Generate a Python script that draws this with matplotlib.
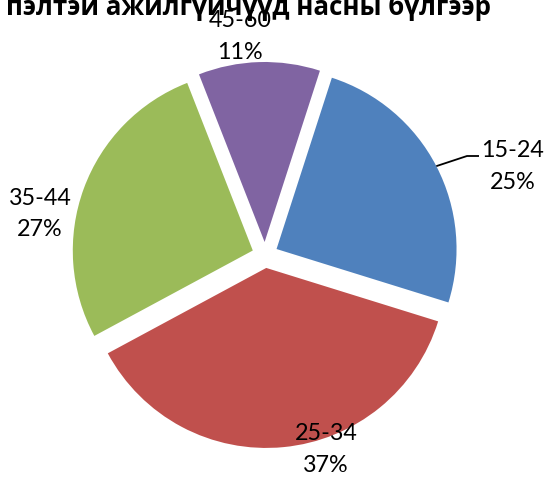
import numpy as np
import matplotlib
matplotlib.use("Agg")
import matplotlib.pyplot as plt

# Data
title = "пэлтэй ажилгүйчүүд насны бүлгээр"
categories = ["15-24", "25-34", "35-44", "45-60"]
values = [24.8, 37.3, 26.9, 10.9]
pct_labels = ["25%", "37%", "27%", "11%"]
colors = ["#4F81BD", "#C0504D", "#9BBB59", "#8064A2"]

W, H = 547, 479
fig = plt.figure(figsize=(W / 100, H / 100), dpi=100)
ax = fig.add_axes([0, 0, 1, 1])

cx, cy = 265, H - 255
R = 180
exp = 13
start = 72.1

wedges, _ = ax.pie(values, colors=colors, startangle=start, counterclock=False,
                   radius=R, center=(cx, cy), explode=[exp] * 4, frame=True,
                   wedgeprops=dict(linewidth=0))
ax.set_xlim(0, W)
ax.set_ylim(0, H)
ax.set_aspect("equal")
ax.axis("off")

lab_font = dict(family=["Lato", "Noto Sans", "DejaVu Sans"], fontsize=16.8, color="black")
# label centers (pixel, y from top)
label_pos = {"15-24": (513, 150, 182), "25-34": (326, 434, 466),
             "35-44": (40, 198, 229), "45-60": (240, 20, 52)}
for cat, pct in zip(categories, pct_labels):
    x, y1, y2 = label_pos[cat]
    ax.text(x, H - y1, cat, ha="center", va="center", **lab_font)
    ax.text(x, H - y2, pct, ha="center", va="center", **lab_font)

# leader line for 15-24
w = wedges[0]
mid = np.deg2rad((w.theta1 + w.theta2) / 2)
wc = w.center
p0 = (wc[0] + R * np.cos(mid), wc[1] + R * np.sin(mid))
ax.plot([p0[0], 467, 479], [p0[1], H - 156, H - 156], color="black", lw=1.3,
        solid_capstyle="butt")

ax.text(491, H - 15, title, ha="right", va="baseline", fontsize=18.6,
        fontweight="bold", family=["Open Sans", "DejaVu Sans"], color="black")

fig.savefig("out.png", dpi=100)
